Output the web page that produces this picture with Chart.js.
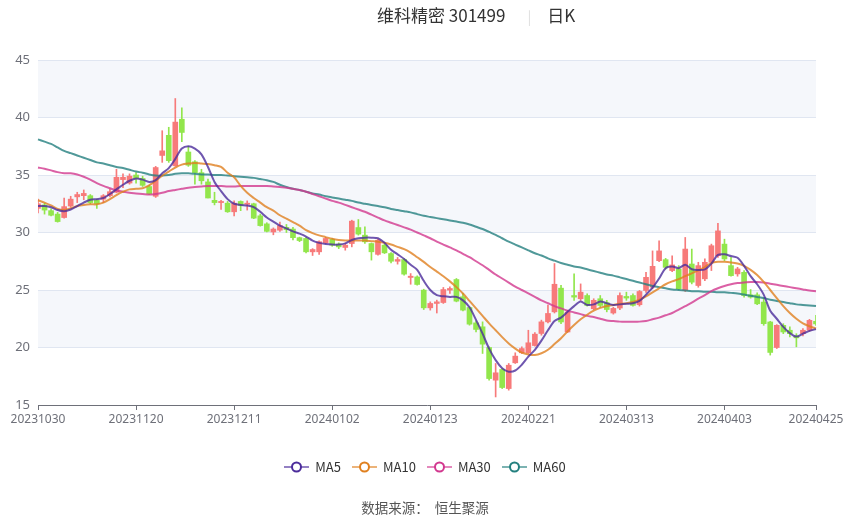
<!DOCTYPE html>
<html lang="zh-CN">
<head>
    <meta charset="UTF-8">
    <title>维科精密 301499 日K</title>
    <script src="https://cdn.jsdelivr.net/npm/chart.js"></script>
    <style>
        body { margin: 0; background: #fff; font-family: "Noto Sans CJK SC", "Noto Sans", sans-serif; }
        #wrap { position: relative; width: 850px; height: 517px; }
        #title { position: absolute; top: 4px; left: 377px; font-size: 17px; line-height: 22px; color: #333; white-space: nowrap; }
        #title .sep { color: #ddd; margin: 0 16px 0 22px; font-size: 14px; }
        #legend { position: absolute; top: 458px; left: 0; width: 850px; display: flex; justify-content: center; gap: 11px; font-size: 13px; line-height: 18px; color: #333; }
        #legend .item { display: flex; align-items: center; gap: 6px; }
        #source { position: absolute; top: 497px; left: 0; width: 850px; text-align: center; font-size: 13.5px; line-height: 20px; color: #555; }
    </style>
</head>
<body>
<div id="wrap">
    <canvas id="kChart" width="850" height="517"></canvas>
    <div id="title">维科精密 301499<span class="sep">|</span>日K</div>
    <div id="legend"></div>
    <div id="source">数据来源：&nbsp;&nbsp;恒生聚源</div>
</div>

<script>
    // 交易日
    const dates = [
        '20231030','20231031',
        '20231101','20231102','20231103','20231106','20231107','20231108','20231109','20231110','20231113','20231114',
        '20231115','20231116','20231117','20231120','20231121','20231122','20231123','20231124','20231127','20231128',
        '20231129','20231130',
        '20231201','20231204','20231205','20231206','20231207','20231208','20231211','20231212','20231213','20231214',
        '20231215','20231218','20231219','20231220','20231221','20231222','20231225','20231226','20231227','20231228',
        '20231229',
        '20240102','20240103','20240104','20240105','20240108','20240109','20240110','20240111','20240112','20240115',
        '20240116','20240117','20240118','20240119','20240122','20240123','20240124','20240125','20240126','20240129',
        '20240130','20240131',
        '20240201','20240202','20240205','20240206','20240207','20240208','20240219','20240220','20240221','20240222',
        '20240223','20240226','20240227','20240228','20240229',
        '20240301','20240304','20240305','20240306','20240307','20240308','20240311','20240312','20240313','20240314',
        '20240315','20240318','20240319','20240320','20240321','20240322','20240325','20240326','20240327','20240328',
        '20240329',
        '20240401','20240402','20240403','20240408','20240409','20240410','20240411','20240412','20240415','20240416',
        '20240417','20240418','20240419','20240422','20240423','20240424','20240425'
    ];
    // 显示的日期标签
    const tickIdx = [0, 15, 30, 45, 60, 75, 90, 105, 119];

    const opens = [
        32.1,32.4,31.9,31.6,31.3,32.3,33.1,33.2,33.2,32.8,
        32.9,33.2,33.5,34.6,34.3,35.0,34.7,34.0,33.15,36.7,
        38.45,35.8,39.85,37.0,36.15,35.2,34.4,32.8,32.6,32.55,
        31.8,32.7,32.45,32.5,31.45,30.75,30.05,30.2,30.45,30.3,
        29.55,29.48,28.32,28.32,29.1,29.4,28.99,28.7,29.04,30.43,
        29.77,29.04,28.1,28.9,28.17,27.5,27.65,26.09,26.14,24.99,
        23.45,23.83,23.91,24.99,25.91,24.41,23.48,22.14,21.8,20.0,
        17.16,18.09,16.43,18.67,19.54,19.54,20.17,21.22,22.23,23.1,
        25.16,21.35,24.52,24.24,24.52,23.37,24.24,23.9,23.0,23.43,
        24.44,24.52,23.72,24.96,25.24,27.55,27.64,26.69,26.83,24.96,
        27.26,25.39,25.97,27.41,27.98,28.99,27.12,26.4,26.54,24.58,
        24.58,23.95,22.22,20.0,21.93,21.5,21.0,21.2,21.5,22.28
    ];
    const closes = [
        32.5,31.95,31.5,30.95,32.25,32.9,33.3,33.4,32.6,32.5,
        33.2,33.55,34.8,34.8,34.9,34.7,34.1,33.35,35.65,37.1,
        36.25,39.6,38.7,35.85,35.2,34.5,33.0,32.6,32.7,31.8,
        32.55,32.35,32.55,31.25,30.6,30.1,30.3,30.6,30.25,29.55,
        29.3,28.32,28.52,29.2,29.48,28.9,28.75,28.9,30.99,29.86,
        29.19,28.32,29.33,28.23,27.5,27.65,26.38,26.2,25.48,23.45,
        23.83,23.97,25.04,25.13,24.03,23.25,22.03,21.57,20.29,17.3,
        17.8,16.52,18.46,19.25,19.91,20.41,21.16,22.23,22.96,25.5,
        22.22,23.08,24.38,24.81,23.66,24.1,23.66,23.3,23.4,24.52,
        24.3,23.66,24.87,26.1,27.06,28.4,26.97,27.18,25.1,28.56,
        25.68,27.12,27.41,28.85,30.14,27.7,26.25,26.83,24.52,24.38,
        23.8,22.07,19.57,21.93,21.35,21.2,20.84,21.5,22.36,22.05
    ];
    const highs = [
        32.9,32.55,32.05,31.75,33.0,33.15,33.5,33.7,33.3,32.9,
        33.3,33.8,35.5,35.1,35.1,35.2,34.9,34.1,35.75,38.85,
        39.15,41.65,40.85,37.5,36.25,35.5,34.65,33.5,32.8,32.7,
        32.75,32.75,32.75,32.55,31.6,30.85,30.4,30.9,30.7,30.45,
        29.6,29.57,28.6,29.28,29.57,29.48,29.1,29.04,31.07,31.13,
        30.5,29.1,29.42,28.99,28.26,27.83,27.74,26.43,26.23,25.07,
        23.97,24.12,25.22,25.28,26.0,24.7,23.54,22.32,22.23,20.06,
        18.61,18.17,18.61,19.54,20.06,21.5,21.3,22.38,23.68,27.3,
        25.4,23.23,26.4,25.53,24.67,24.24,24.52,24.1,23.5,24.75,
        24.81,24.67,24.96,26.54,28.4,29.28,27.75,27.98,27.12,29.57,
        28.56,27.41,27.7,28.99,30.8,29.42,27.84,26.97,26.69,25.04,
        24.75,24.3,22.28,21.99,22.07,21.79,21.2,21.64,22.45,22.8
    ];
    const lows = [
        31.7,31.6,31.45,30.9,31.25,32.2,32.6,32.85,32.5,32.1,
        32.6,33.1,33.45,33.9,34.2,34.3,34.0,33.3,33.05,36.1,
        36.1,35.75,37.9,35.75,34.2,34.2,33.0,32.4,32.0,31.75,
        31.45,31.9,31.95,31.2,30.55,30.05,29.8,30.1,30.0,29.35,
        29.2,28.23,28.0,28.1,29.04,28.8,28.6,28.46,28.75,29.77,
        29.04,27.6,28.03,28.17,27.36,27.25,26.29,25.5,25.42,23.3,
        23.25,23.0,23.83,24.7,23.97,23.19,21.94,21.36,19.48,17.16,
        15.7,16.43,16.29,18.61,19.48,19.48,20.12,21.07,22.14,23.0,
        22.07,21.3,24.1,24.1,23.6,23.29,23.5,23.1,22.9,23.3,
        24.1,23.6,23.6,24.8,25.1,27.46,26.83,26.6,25.04,24.87,
        25.53,25.24,25.82,26.69,27.84,27.55,26.2,26.2,24.38,24.29,
        23.72,21.93,19.34,19.91,21.2,20.92,20.06,21.0,21.41,21.93
    ];

    const ma5 = [
        32.3,32.3,32.2,31.95,31.85,32.0,32.3,32.6,32.85,32.9,
        33.0,33.35,33.75,34.15,34.5,34.7,34.6,34.4,34.55,35.15,
        35.6,36.4,37.3,37.5,37.3,36.8,35.7,34.4,33.6,32.9,
        32.5,32.4,32.35,32.2,31.8,31.3,30.95,30.6,30.35,30.1,
        29.9,29.65,29.3,29.1,29.0,28.95,28.95,29.05,29.35,29.5,
        29.55,29.55,29.5,29.1,28.5,28.1,27.7,27.2,26.75,25.8,
        25.0,24.55,24.45,24.4,24.4,24.1,23.5,22.4,21.2,19.9,
        18.9,18.2,17.9,18.0,18.5,19.2,19.8,20.6,21.5,22.3,
        22.6,23.1,23.6,24.0,23.7,23.75,24.0,23.85,23.7,23.75,
        23.8,23.85,24.05,24.6,25.2,26.0,26.9,27.05,26.9,27.2,
        26.8,26.75,26.8,27.3,28.05,28.1,27.95,27.8,27.1,26.2,
        25.5,24.6,23.2,22.5,21.8,21.25,20.95,21.2,21.45,21.6
    ];
    const ma10 = [
        32.8,32.6,32.35,32.05,31.95,32.1,32.3,32.4,32.45,32.45,
        32.6,32.9,33.25,33.55,33.75,33.8,33.85,34.1,34.5,34.95,
        35.3,35.65,35.9,36.0,36.05,36.0,35.95,35.85,35.7,35.2,
        34.8,34.05,33.45,33.0,32.6,32.2,31.9,31.5,31.2,30.9,
        30.6,30.2,29.95,29.75,29.6,29.45,29.35,29.3,29.3,29.3,
        29.3,29.25,29.2,29.1,28.95,28.75,28.55,28.25,27.85,27.45,
        27.0,26.6,26.2,25.75,25.25,24.7,24.05,23.4,22.75,22.1,
        21.5,20.9,20.35,19.9,19.55,19.4,19.35,19.5,19.8,20.3,
        20.8,21.4,21.95,22.45,22.85,23.2,23.45,23.6,23.7,23.8,
        23.85,23.95,24.15,24.45,24.8,25.15,25.5,25.75,25.95,26.2,
        26.45,26.7,27.0,27.35,27.45,27.45,27.4,27.3,27.1,26.75,
        26.3,25.7,25.0,24.3,23.6,23.0,22.5,22.1,21.85,21.65
    ];
    const ma30 = [
        35.65,35.55,35.4,35.25,35.15,35.15,35.05,34.85,34.6,34.3,
        34.05,33.85,33.65,33.55,33.45,33.4,33.35,33.3,33.35,33.45,
        33.6,33.7,33.8,33.9,33.95,34.0,34.05,34.05,34.05,34.0,
        34.0,34.05,34.05,34.05,34.05,34.05,34.0,33.95,33.9,33.8,
        33.7,33.55,33.35,33.15,32.95,32.75,32.6,32.4,32.2,32.0,
        31.8,31.55,31.3,31.05,30.85,30.65,30.45,30.25,30.0,29.75,
        29.5,29.2,28.95,28.7,28.45,28.15,27.85,27.5,27.15,26.75,
        26.35,26.0,25.65,25.3,25.0,24.7,24.4,24.1,23.85,23.6,
        23.4,23.2,23.05,22.9,22.75,22.65,22.5,22.35,22.3,22.25,
        22.25,22.25,22.25,22.3,22.45,22.6,22.8,23.0,23.3,23.6,
        23.9,24.25,24.55,24.9,25.15,25.35,25.5,25.6,25.65,25.7,
        25.7,25.65,25.55,25.45,25.35,25.25,25.15,25.05,24.95,24.9
    ];
    const ma60 = [
        38.1,37.9,37.7,37.4,37.1,36.9,36.7,36.5,36.3,36.1,
        36.0,35.85,35.7,35.6,35.45,35.3,35.2,35.05,34.95,34.95,
        35.0,35.1,35.15,35.15,35.1,35.05,35.05,35.0,35.0,34.95,
        34.9,34.85,34.8,34.75,34.65,34.55,34.4,34.15,33.95,33.8,
        33.7,33.55,33.4,33.3,33.15,33.05,32.95,32.85,32.75,32.6,
        32.5,32.4,32.3,32.2,32.05,31.95,31.85,31.75,31.6,31.45,
        31.35,31.25,31.15,31.05,30.95,30.85,30.7,30.5,30.3,30.05,
        29.8,29.5,29.2,28.95,28.7,28.45,28.2,28.0,27.75,27.55,
        27.35,27.2,27.05,26.95,26.8,26.65,26.5,26.35,26.25,26.1,
        25.95,25.8,25.65,25.5,25.35,25.25,25.15,25.05,25.0,24.95,
        24.9,24.9,24.85,24.85,24.8,24.8,24.75,24.7,24.6,24.5,
        24.4,24.3,24.15,24.05,23.95,23.85,23.75,23.7,23.65,23.6
    ];

    const upColor = 'rgb(247,122,122)';
    const downColor = 'rgb(146,230,76)';
    const maList = [
        { name: 'MA5', data: ma5, color: '75,44,155' },
        { name: 'MA10', data: ma10, color: '224,128,31' },
        { name: 'MA30', data: ma30, color: '210,56,143' },
        { name: 'MA60', data: ma60, color: '36,128,127' }
    ];

    const candleColors = closes.map((c, i) => c >= opens[i] ? upColor : downColor);

    // 背景条纹
    const bandPlugin = {
        id: 'bands',
        beforeDraw(chart) {
            const { ctx, chartArea: a, scales: { y } } = chart;
            ctx.save();
            ctx.fillStyle = '#F5F7FB';
            for (let v = 20; v < 45; v += 10) {
                const top = y.getPixelForValue(v + 5);
                const bottom = y.getPixelForValue(v);
                ctx.fillRect(a.left, top, a.right - a.left, bottom - top);
            }
            ctx.restore();
        }
    };

    const lineSets = maList.map(m => ({
        type: 'line',
        label: m.name,
        data: m.data,
        borderColor: `rgba(${m.color},0.8)`,
        borderWidth: 2,
        pointRadius: 0,
        tension: 0.3,
        fill: false,
        order: 0
    }));

    new Chart(document.getElementById('kChart'), {
        type: 'bar',
        data: {
            labels: dates,
            datasets: [
                ...lineSets,
                {
                    label: 'body',
                    data: opens.map((o, i) => [o, closes[i]]),
                    backgroundColor: candleColors,
                    barThickness: 5,
                    minBarLength: 1,
                    grouped: false,
                    order: 1
                },
                {
                    label: 'wick',
                    data: lows.map((l, i) => [l, highs[i]]),
                    backgroundColor: candleColors,
                    barThickness: 1,
                    grouped: false,
                    order: 2
                }
            ]
        },
        options: {
            responsive: false,
            animation: false,
            layout: { padding: { top: 60, right: 34, left: 0, bottom: 0 } },
            plugins: { legend: { display: false }, tooltip: { enabled: false } },
            scales: {
                x: {
                    offset: false,
                    grid: { offset: false, drawOnChartArea: false, drawTicks: true, tickLength: 5, color: '#6E7079' },
                    border: { display: true, color: '#6E7079' },
                    ticks: {
                        autoSkip: false,
                        maxRotation: 0,
                        padding: 2,
                        color: '#6E7079',
                        font: { size: 12, family: '"Noto Sans", sans-serif' },
                        callback: function (value, index) {
                            return tickIdx.includes(index) ? this.getLabelForValue(value) : null;
                        }
                    },
                    afterFit: s => { s.height = 112; }
                },
                y: {
                    min: 15,
                    max: 45,
                    grid: { color: '#E0E6F1', drawTicks: false },
                    border: { display: false },
                    ticks: {
                        stepSize: 5,
                        padding: 8,
                        color: '#6E7079',
                        font: { size: 13, family: '"Noto Sans", sans-serif' }
                    },
                    afterFit: s => { s.width = 38; }
                }
            }
        },
        plugins: [bandPlugin]
    });

    // 图例
    const legend = document.getElementById('legend');
    maList.forEach(m => {
        const item = document.createElement('div');
        item.className = 'item';
        item.innerHTML =
            `<svg width="25" height="14"><line x1="0" y1="7" x2="25" y2="7" stroke="rgba(${m.color},0.6)" stroke-width="2"/>` +
            `<circle cx="12.5" cy="7" r="4.5" fill="#fff" stroke="rgb(${m.color})" stroke-width="2"/></svg>` +
            `<span>${m.name}</span>`;
        legend.appendChild(item);
    });
</script>
</body>
</html>
